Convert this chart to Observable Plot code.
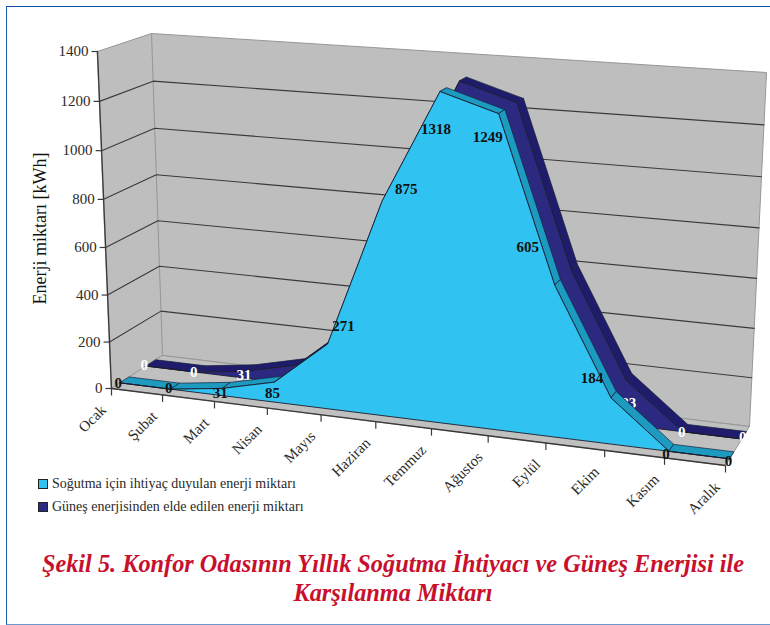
<!DOCTYPE html>
<html lang="tr">
<head>
<meta charset="utf-8">
<script src="https://cdn.jsdelivr.net/npm/d3@7"></script>
<script src="https://cdn.jsdelivr.net/npm/@observablehq/plot@0.6"></script>
<style>
  html, body { margin: 0; padding: 0; background: #fff; }
  #page { position: relative; width: 770px; height: 625px; overflow: hidden; font-family: "Liberation Serif", serif; }
  #frame { position: absolute; left: 5.5px; top: 6px; width: 780px; height: 617px; border-left: 1.5px solid #1a5fb0; border-top: 1.5px solid #0a50a8; border-bottom: 1.5px solid #6b97cc; }
  #chart { position: absolute; left: 0; top: 0; }
  #legend { position: absolute; left: 38px; top: 472px; color: #2a2a2a; font-size: 14px; }
  #legend div { display: flex; align-items: center; height: 23px; white-space: nowrap; }
  #legend i { display: inline-block; width: 8px; height: 8px; border: 1px solid #222; margin-right: 4px; }
  #caption { position: absolute; left: 0; top: 549px; width: 786px; text-align: center; color: #c8102e; font: italic bold 24.3px/29px "Liberation Serif", serif; }
</style>
</head>
<body>
<div id="page">
  <div id="frame"></div>
  <div id="chart"></div>
  <div id="legend"></div>
  <div id="caption">Şekil 5. Konfor Odasının Yıllık Soğutma İhtiyacı ve Güneş Enerjisi ile<br>Karşılanma Miktarı</div>
</div>
<script>
const months = ["Ocak","Şubat","Mart","Nisan","Mayıs","Haziran","Temmuz","Ağustos","Eylül","Ekim","Kasım","Aralık"];
const cooling = [0,0,31,85,271,875,1318,1249,605,184,0,0];
const solar = [0,0,31,85,271,875,1318,1249,605,183,0,0];
const yTicks = [0,200,400,600,800,1000,1200,1400];
const seriesNames = ["Soğutma için ihtiyaç duyulan enerji miktarı","Güneş enerjisinden elde edilen enerji miktarı"];
const yTitle = "Enerji miktarı [kWh]";

// Camera of the 3-D box (bottom/top corners: front-left, front-right, back-left, back-right)
const camera = {
  floor: {fl:[111,388], fr:[725,465], bl:[162,355], br:[749,426]},
  roof:  {fl:[97,51],  fr:[742,93],  bl:[151,33],  br:[766,72]},
  persI: 1.1026, persV: 1.0425, vMax: 1400, iMax: 11
};
const depth = {coolFront:0.17, coolBack:0.35, solarFront:0.68, solarBack:0.87};
const colors = {wall:"#bebebe", floor:"#c0c0c0", edge:"#979797", grid:"#3a3a3a", ink:"#2a2a2a",
  coolFace:"#30c3f2", coolBand:"#1c9ac0", solarFace:"#2b2a80", solarBand:"#1f1c6b"};
// Label offsets from each vertex, as the spreadsheet placed them
const coolNudge = [[-2,0],[-2,-1],[-2,5],[-2,11],[16,-18],[24,-12],[-4,38],[-11,23],[-27,-38],[-19,-20],[-3,3],[-1,2]];
const solarNudge = {0:[-2,-1],1:[-2,0],2:[-2,4],9:[-1,23],10:[-1,0],11:[1,-2]};

const warp = (u,r) => u/(u+r*(1-u));
const mix = (a,b,t) => a+(b-a)*t;
function project([i,v,d]) {
  const a = warp(i/camera.iMax,camera.persI), b = warp(v/camera.vMax,camera.persV);
  const corner = k => {
    const f = c => [0,1].map(n => mix(camera.floor[c][n],camera.roof[c][n],b));
    const front = [0,1].map(n => mix(f("fl")[n],f("fr")[n],a));
    const back = [0,1].map(n => mix(f("bl")[n],f("br")[n],a));
    return mix(front[k],back[k],d);
  };
  return [corner(0),corner(1)];
}
const px = p => project(p)[0];
const py = p => project(p)[1];

const poly = (rows,fill,stroke,sw=0.8) => Plot.line(rows,{x:px,y:py,curve:"linear-closed",fill,stroke,strokeWidth:sw});
const path = (rows,stroke,sw) => Plot.line(rows,{x:px,y:py,stroke,strokeWidth:sw});
const idx = d3.range(months.length);

function face(values,d,fill) {
  return poly([...idx.map(i=>[i,values[i],d]),[11,0,d],[0,0,d]],fill,"#1b1b2a",0.9);
}
function bands(values,d0,d1,fill) {
  return idx.slice(0,-1).map(i=>poly([[i,values[i],d0],[i+1,values[i+1],d0],[i+1,values[i+1],d1],[i,values[i],d1]],fill,"#14203a",0.7));
}
const serif = "Liberation Serif";

const marks = [
  // walls and floor
  poly([[0,0,1],[11,0,1],[11,1400,1],[0,1400,1]],colors.wall,colors.edge,1),
  poly([[0,0,0],[0,0,1],[0,1400,1],[0,1400,0]],colors.wall,colors.edge,1),
  ...yTicks.filter(v=>v>0&&v<1400).map(v=>path([[0,v,0],[0,v,1],[11,v,1]],colors.grid,1.1)),
  poly([[0,0,0],[11,0,0],[11,0,1],[0,0,1]],colors.floor,colors.edge,1),
  // axes
  path([[0,0,0],[0,1400,0]],colors.grid,1.3),
  path([[0,0,0],[11,0,0]],colors.grid,1.3),
  Plot.link(yTicks,{x1:v=>px([0,v,0]),y1:v=>py([0,v,0]),x2:v=>px([0,v,0])-6,y2:v=>py([0,v,0]),stroke:colors.grid,strokeWidth:1.2}),
  Plot.link(idx,{x1:i=>px([i,0,0]),y1:i=>py([i,0,0]),x2:i=>px([i,0,0]),y2:i=>py([i,0,0])+7,stroke:colors.grid,strokeWidth:1.2}),
  Plot.text(yTicks,{x:v=>px([0,v,0])-9,y:v=>py([0,v,0]),text:v=>String(v),textAnchor:"end",fontFamily:serif,fontSize:15,fill:colors.ink}),
  Plot.text(idx,{x:i=>px([i,0,0])-8,y:i=>py([i,0,0])+19,text:i=>months[i],textAnchor:"end",rotate:-45,fontFamily:serif,fontSize:15,letterSpacing:0.3,fill:colors.ink}),
  Plot.text([yTitle],{frameAnchor:"left",dx:40,dy:-37,rotate:-90,textAnchor:"middle",fontFamily:serif,fontSize:18,fill:"#111"}),
  // back series
  ...bands(solar,depth.solarFront,depth.solarBack,colors.solarBand),
  face(solar,depth.solarFront,colors.solarFace),
  Plot.text(Object.keys(solarNudge).map(Number),{
    x:i=>px([i,solar[i],depth.solarFront])+solarNudge[i][0],
    y:i=>py([i,solar[i],depth.solarFront])+solarNudge[i][1],
    text:i=>String(solar[i]),fontFamily:serif,fontWeight:"bold",fontSize:15,fill:"#fff"}),
  // front series
  ...bands(cooling,depth.coolFront,depth.coolBack,colors.coolBand),
  face(cooling,depth.coolFront,colors.coolFace),
  Plot.text(idx,{
    x:i=>px([i,cooling[i],depth.coolFront])+coolNudge[i][0],
    y:i=>py([i,cooling[i],depth.coolFront])+coolNudge[i][1],
    text:i=>String(cooling[i]),fontFamily:serif,fontWeight:"bold",fontSize:15,fill:"#111"})
];

const plot = Plot.plot({
  width:770, height:530, margin:0,
  x:{axis:null,domain:[0,770],range:[0,770]},
  y:{axis:null,domain:[0,530],range:[0,530]},
  style:{background:"transparent",overflow:"visible"},
  marks
});
document.getElementById("chart").append(plot);

const legend = document.getElementById("legend");
seriesNames.forEach((name,k)=>{
  const row = document.createElement("div");
  const sw = document.createElement("i");
  sw.style.background = k===0?colors.coolFace:colors.solarFace;
  row.append(sw,document.createTextNode(name));
  legend.append(row);
});
</script>
</body>
</html>
